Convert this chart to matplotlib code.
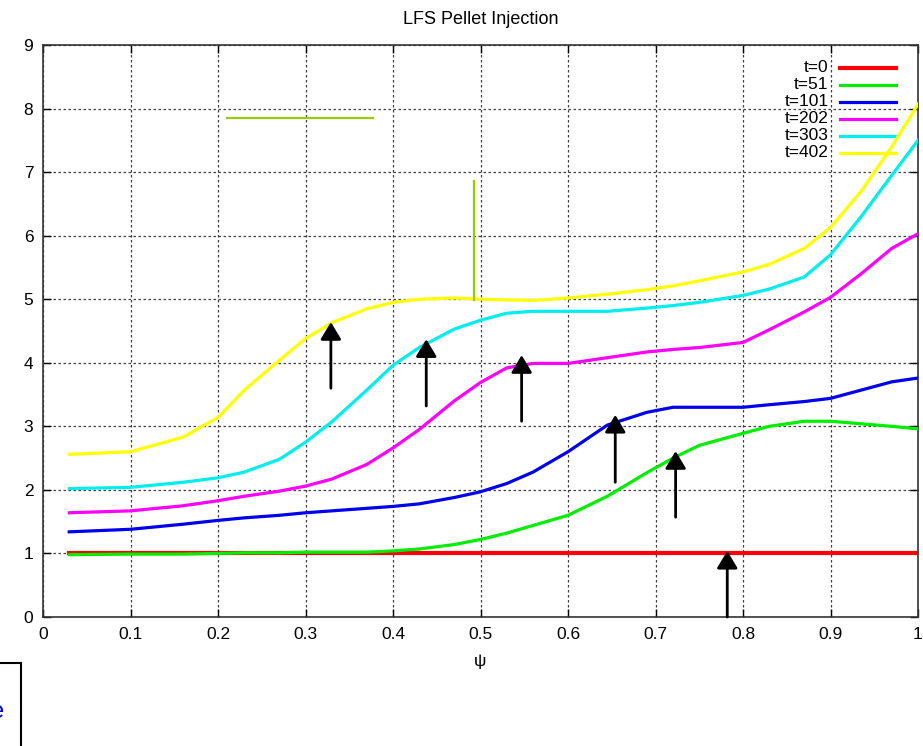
import matplotlib
matplotlib.use('Agg')
from matplotlib import pyplot as plt
from matplotlib.patches import Rectangle

plt.rcParams['font.family'] = ['Liberation Sans', 'DejaVu Sans']

# psi points shared by all curves
psi = [0.03, 0.1, 0.16, 0.2, 0.23, 0.27, 0.3, 0.33, 0.37, 0.4, 0.43, 0.47, 0.5, 0.53,
       0.56, 0.6, 0.645, 0.69, 0.72, 0.75, 0.8, 0.83, 0.87, 0.9, 0.935, 0.97, 1.0]

t0 = [1.0] * len(psi)
t51 = [0.98, 0.99, 0.99, 1.0, 1.01, 1.01, 1.02, 1.02, 1.02, 1.04, 1.07, 1.14, 1.22, 1.32,
       1.44, 1.6, 1.9, 2.27, 2.5, 2.7, 2.89, 3.0, 3.08, 3.08, 3.04, 3.0, 2.96]
t101 = [1.34, 1.38, 1.46, 1.52, 1.56, 1.6, 1.64, 1.67, 1.71, 1.74, 1.78, 1.88, 1.97, 2.1,
        2.28, 2.6, 3.02, 3.22, 3.3, 3.3, 3.3, 3.34, 3.39, 3.44, 3.57, 3.7, 3.76]
t202 = [1.64, 1.67, 1.75, 1.83, 1.9, 1.98, 2.06, 2.17, 2.4, 2.66, 2.95, 3.4, 3.69, 3.92,
        3.99, 3.99, 4.08, 4.17, 4.21, 4.24, 4.32, 4.52, 4.8, 5.03, 5.4, 5.8, 6.03]
t303 = [2.02, 2.04, 2.12, 2.19, 2.28, 2.48, 2.75, 3.07, 3.57, 3.96, 4.24, 4.53, 4.67, 4.78,
        4.81, 4.81, 4.81, 4.86, 4.9, 4.95, 5.06, 5.16, 5.35, 5.7, 6.3, 6.95, 7.5]
t402 = [2.56, 2.6, 2.83, 3.14, 3.57, 4.04, 4.38, 4.63, 4.85, 4.95, 5.0, 5.02, 5.0, 4.99,
        4.98, 5.02, 5.08, 5.15, 5.21, 5.29, 5.43, 5.55, 5.8, 6.13, 6.7, 7.4, 8.07]

labels = ['t=0', 't=51', 't=101', 't=202', 't=303', 't=402']
colors = ['#ff0000', '#00ee00', '#0000ee', '#ff00ff', '#00eeee', '#ffff00']
series = [t0, t51, t101, t202, t303, t402]

# arrows: x, tail y, tip y
arrow_x = [0.329, 0.438, 0.547, 0.654, 0.723, 0.782]
arrow_y0 = [3.6, 3.32, 3.08, 2.12, 1.57, 0.0]
arrow_y1 = [4.64, 4.37, 4.12, 3.18, 2.61, 1.04]

# olive marker lines
hline_x = [0.21, 0.377]
hline_y = [7.85, 7.85]
vline_x = [0.4926, 0.4926]
vline_y = [6.86, 4.98]

fig = plt.figure(figsize=(9.23, 7.46), dpi=100)
ax = fig.add_axes([43 / 923, 129 / 746, 875 / 923, 572 / 746])

for lab, col, ys in zip(labels, colors, series):
    lw = 3.0 if lab == 't=0' else 2.3
    ax.plot(psi, ys, color=col, lw=lw, zorder=3)

ax.plot(hline_x, hline_y, color='#99cc00', lw=1.6, zorder=3)
ax.plot(vline_x, vline_y, color='#99cc00', lw=1.6, zorder=3)

for x, y0, y1 in zip(arrow_x, arrow_y0, arrow_y1):
    ax.annotate('', xy=(x, y1), xytext=(x, y0),
                arrowprops=dict(arrowstyle='-|>,head_width=0.42,head_length=0.7',
                                color='k', lw=2, mutation_scale=15,
                                shrinkA=0, shrinkB=0), zorder=4)

# legend drawn by hand, text right aligned
for i, (lab, col) in enumerate(zip(labels, colors)):
    yy = 0.96 - i * 0.0297
    ax.text(0.898, yy, lab, transform=ax.transAxes, ha='right', va='center', fontsize=12.5)
    lw = 3.0 if lab == 't=0' else 2.3
    ax.plot([0.911, 0.975], [yy, yy], transform=ax.transAxes, color=col, lw=lw, zorder=2)

ax.set_xlim(0, 1)
ax.set_ylim(0, 9)
ax.set_xticks([i / 10 for i in range(11)])
ax.set_xticklabels(['0', '0.1', '0.2', '0.3', '0.4', '0.5', '0.6', '0.7', '0.8', '0.9', '1'])
ax.set_yticks(range(10))
ax.tick_params(direction='in', top=True, right=True, length=6, width=1,
               labelsize=12.5, pad=7)
ax.grid(True, color='0.25', linestyle=(0, (2, 2)), lw=0.9)
for s in ax.spines.values():
    s.set_linewidth(1.2)
    s.set_color('#333333')

ax.set_title('LFS Pellet Injection', fontsize=13, pad=15,
             family=['Liberation Sans Narrow', 'Liberation Sans', 'DejaVu Sans'])
ax.set_xlabel('ψ', fontsize=12.5, labelpad=9)

# fragment of a neighbouring box at the lower left edge
fig.patches.append(Rectangle((-10 / 923, -10 / 746), 31 / 923, (746 - 663 + 10) / 746,
                             transform=fig.transFigure, fill=False, ec='k', lw=1.5))
fig.text(4 / 923, 1 - 712 / 746, 'e', color='#0000cc', fontsize=17, ha='right', va='center')

fig.savefig('out.png', dpi=100)
